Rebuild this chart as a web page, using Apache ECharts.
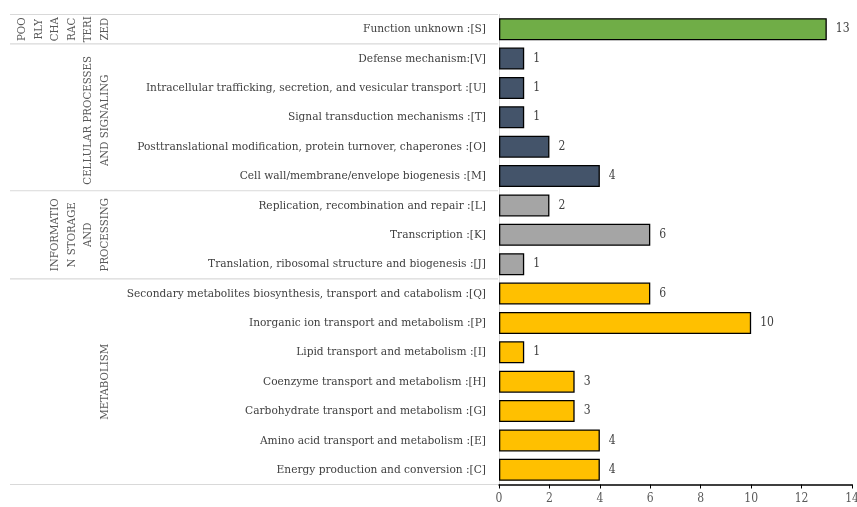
<!DOCTYPE html>
<html><head><meta charset="utf-8">
<script src="https://cdn.jsdelivr.net/npm/echarts@6/dist/echarts.min.js"></script>
<style>html,body{margin:0;padding:0;background:#fff}#c{width:857px;height:507px}</style>
</head><body><div id="c"></div>
<script>
// categories top-to-bottom
const categories = [
  'Function unknown :[S]',
  'Defense mechanism:[V]',
  'Intracellular trafficking, secretion, and vesicular transport :[U]',
  'Signal transduction mechanisms :[T]',
  'Posttranslational modification, protein turnover, chaperones :[O]',
  'Cell wall/membrane/envelope biogenesis :[M]',
  'Replication, recombination and repair :[L]',
  'Transcription :[K]',
  'Translation, ribosomal structure and biogenesis :[J]',
  'Secondary metabolites biosynthesis, transport and catabolism :[Q]',
  'Inorganic ion transport and metabolism :[P]',
  'Lipid transport and metabolism :[I]',
  'Coenzyme transport and metabolism :[H]',
  'Carbohydrate transport and metabolism :[G]',
  'Amino acid transport and metabolism :[E]',
  'Energy production and conversion :[C]'
];
const values = [13, 1, 1, 1, 2, 4, 2, 6, 1, 6, 10, 1, 3, 3, 4, 4];
const groupNames = [
  'POO\nRLY\nCHA\nRAC\nTERI\nZED',
  'CELLULAR PROCESSES\nAND SIGNALING',
  'INFORMATIO\nN STORAGE\nAND\nPROCESSING',
  'METABOLISM'
];
const groupStart = [0, 1, 6, 9];
const groupEnd = [0, 5, 8, 15];
const groupColors = ['#70ad47', '#44546a', '#a5a5a5', '#ffc000'];
const xTicks = [0, 2, 4, 6, 8, 10, 12, 14];

const FONT = '"DejaVu Serif Condensed", "DejaVu Serif", serif';
function colorOf(i) {
  for (let g = 0; g < groupStart.length; g++) if (i >= groupStart[g] && i <= groupEnd[g]) return groupColors[g];
  return '#999';
}

const chart = echarts.init(document.getElementById('c'));
chart.setOption({
  animation: false,
  grid: { left: 499, right: 5, top: 14.5, bottom: 22.5, containLabel: false, outerBoundsMode: 'none' },
  xAxis: {
    type: 'value', min: xTicks[0], max: xTicks[xTicks.length - 1], interval: 2,
    axisLine: { show: true, lineStyle: { color: '#000', width: 1.5 } },
    axisTick: { show: true, length: 4, lineStyle: { color: '#000' } },
    splitLine: { show: false },
    axisLabel: { color: '#595959', fontFamily: FONT, fontSize: 12, margin: 8 }
  },
  yAxis: {
    type: 'category', data: categories, inverse: true,
    axisLine: { show: true, lineStyle: { color: '#d9d9d9', width: 1 } },
    axisTick: { show: false },
    axisLabel: { color: '#404040', fontFamily: FONT, fontSize: 11.8, margin: 13 }
  },
  series: [{
    type: 'bar', barCategoryGap: '25%',
    data: values.map((v, i) => ({ value: v, itemStyle: { color: colorOf(i) } })),
    itemStyle: { borderColor: '#000', borderWidth: 1.3 },
    label: { show: true, position: 'right', distance: 9, color: '#404040', fontFamily: FONT, fontSize: 12 }
  }]
});

// group separators and labels
const yPix = i => chart.convertToPixel({ yAxisIndex: 0 }, categories[i]);
const step = yPix(1) - yPix(0);
const elements = [];
const lineX1 = 10, lineX2 = 498;
const boundaries = [yPix(0) - step / 2];
for (let g = 0; g < groupStart.length; g++) boundaries.push(yPix(groupEnd[g]) + step / 2);
boundaries.forEach(y => elements.push({
  type: 'line', shape: { x1: lineX1, y1: y, x2: lineX2, y2: y },
  style: { stroke: '#d9d9d9', lineWidth: 1.2 }, silent: true
}));
for (let g = 0; g < groupNames.length; g++) {
  const cy = (yPix(groupStart[g]) + yPix(groupEnd[g])) / 2 + (g === 1 ? 3 : 0);
  elements.push({
    type: 'text', x: 113, y: cy, rotation: Math.PI / 2,
    style: {
      text: groupNames[g], fill: '#595959', font: '11.4px "DejaVu Serif Condensed", "DejaVu Serif", serif',
      align: 'center', verticalAlign: 'bottom', lineHeight: 16.5
    }, silent: true
  });
}
chart.setOption({ graphic: elements });
</script></body></html>
